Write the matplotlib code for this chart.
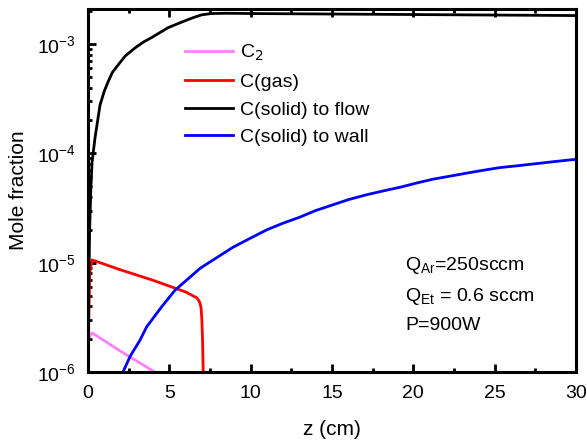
import numpy as np
import matplotlib.pyplot as plt
from matplotlib.ticker import LogLocator, MultipleLocator, NullFormatter

plt.rcParams['font.family'] = ['Liberation Sans', 'DejaVu Sans']

# C2
z_c2 = [0.0, 0.02, 0.25, 2.0, 4.1]
y_c2 = [1e-6, 2.0e-6, 2.28e-6, 1.55e-6, 1.0e-6]

# C(gas)
z_gas = [0.0, 0.05, 0.1, 0.25, 2.0, 4.0, 6.0, 6.7, 6.85, 6.95, 7.0, 7.05, 7.08]
y_gas = [1e-6, 3e-6, 8e-6, 1.06e-5, 8.6e-6, 6.9e-6, 5.4e-6, 4.76e-6, 4.4e-6, 3.9e-6, 3.0e-6, 1.8e-6, 1e-6]

# C(solid) to flow
z_flow = [0.0, 0.04, 0.1, 0.17, 0.25, 0.43, 0.74, 1.0, 1.23, 1.5, 1.84, 2.3, 2.89, 3.4, 3.93, 4.92,
          5.96, 6.5, 7.0, 7.6, 8.5, 10, 15, 20, 25, 30]
y_flow = [1e-6, 5e-6, 2e-5, 4.5e-5, 8.3e-5, 1.38e-4, 2.77e-4, 3.7e-4, 4.5e-4, 5.5e-4, 6.4e-4, 7.8e-4,
          9.2e-4, 1.04e-3, 1.15e-3, 1.41e-3, 1.63e-3, 1.75e-3, 1.85e-3, 1.9e-3, 1.91e-3, 1.9e-3,
          1.88e-3, 1.86e-3, 1.84e-3, 1.82e-3]

# C(solid) to wall
z_wall = [2.15, 2.6, 3.2, 3.6, 4.5, 5.35, 6.9, 8.9, 10.0, 11.0, 12.0, 13.0, 14.0, 15.1, 16.0, 17.1,
          18.2, 19.2, 20.2, 21.2, 22.3, 23.3, 24.3, 25.3, 26.4, 27.4, 28.5, 29.6, 30]
y_wall = [1e-6, 1.4e-6, 1.96e-6, 2.58e-6, 3.9e-6, 5.6e-6, 8.9e-6, 1.38e-5, 1.68e-5, 2.0e-5, 2.3e-5,
          2.6e-5, 3.0e-5, 3.4e-5, 3.77e-5, 4.17e-5, 4.55e-5, 4.9e-5, 5.35e-5, 5.8e-5, 6.2e-5, 6.6e-5,
          7.0e-5, 7.4e-5, 7.7e-5, 8.0e-5, 8.35e-5, 8.7e-5, 8.8e-5]

fig = plt.figure(figsize=(5.87, 4.44), dpi=100)
ax = fig.add_axes([88/587, 1 - 372/444, (576-88)/587, (372-9)/444])

ax.plot(z_c2, y_c2, color='#ff80ff', lw=2, label='C$_2$')
ax.plot(z_gas, y_gas, color='red', lw=2, label='C(gas)')
ax.plot(z_flow, y_flow, color='black', lw=2, label='C(solid) to flow')
ax.plot(z_wall, y_wall, color='blue', lw=2, label='C(solid) to wall')

ax.set_yscale('log')
ax.set_xlim(0, 30)
ax.set_ylim(1e-6, 2.09e-3)
ax.xaxis.set_major_locator(MultipleLocator(5))
ax.xaxis.set_minor_locator(MultipleLocator(2.5))
ax.yaxis.set_major_locator(LogLocator(base=10))
ax.yaxis.set_minor_locator(LogLocator(base=10, subs=np.arange(2, 10)))
ax.yaxis.set_minor_formatter(NullFormatter())
ax.tick_params(which='both', direction='in', width=2, labelsize=14, top=True)
ax.tick_params(which='major', length=6, pad=9)
ax.tick_params(which='minor', length=3)
ax.tick_params(axis='y', which='both', right=False)
for s in ax.spines.values():
    s.set_linewidth(2.2)

ax.set_xlabel('z (cm)', fontsize=15, labelpad=13)
ax.set_ylabel('Mole fraction', fontsize=15, labelpad=6)

ax.legend(loc='upper left', bbox_to_anchor=(0.162, 0.955), frameon=False, fontsize=14,
          handlelength=2.5, handletextpad=0.35, labelspacing=0.52)

ax.text(0.65, 0.281, 'Q$_{\\mathregular{Ar}}$=250sccm', transform=ax.transAxes, fontsize=14)
ax.text(0.65, 0.196, 'Q$_{\\mathregular{Et}}$ = 0.6 sccm', transform=ax.transAxes, fontsize=14)
ax.text(0.65, 0.116, 'P=900W', transform=ax.transAxes, fontsize=14)

fig.savefig('out.png', dpi=100)
